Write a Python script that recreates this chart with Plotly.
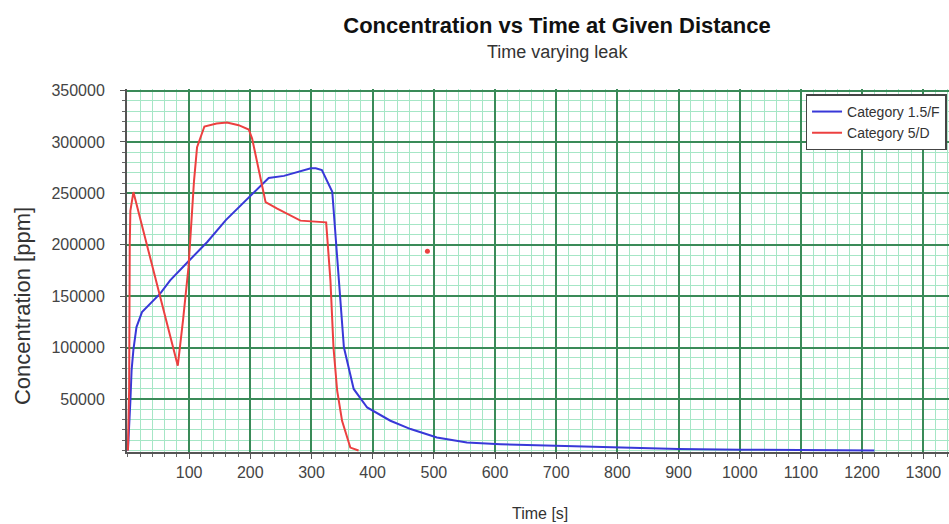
import plotly.graph_objects as go

# ---- data ----
blue_t = [0, 2, 4, 6, 9, 14, 23, 53, 69, 99, 130, 160, 200, 230, 255, 280, 299, 307, 317, 334, 353, 369, 391, 429, 462, 505, 554, 609, 700, 800, 900, 1000, 1100, 1220]
blue_c = [0, 20000, 48000, 78000, 98000, 120000, 134500, 152700, 165400, 184000, 203000, 224000, 248000, 265000, 267000, 271000, 274500, 274500, 272600, 251500, 100300, 59800, 41800, 28900, 20800, 12600, 7700, 6100, 4600, 2600, 1300, 700, 300, 0]

red_t = [0, 2, 3, 4, 9, 81.5, 90, 99, 108, 113, 125, 145, 162, 181, 197.5, 203, 225, 244, 282, 314, 324, 331, 336, 342, 350, 363.5, 377]
red_c = [0, 60000, 200000, 233000, 251300, 82400, 126300, 178000, 262000, 295000, 315000, 318000, 319000, 316300, 312100, 303300, 241500, 235100, 223500, 222000, 221800, 165200, 100300, 58100, 28800, 2800, 0]

dot_t = [489.5]
dot_c = [193800]

x_ticks = [100, 200, 300, 400, 500, 600, 700, 800, 900, 1000, 1100, 1200, 1300]
y_ticks = [50000, 100000, 150000, 200000, 250000, 300000, 350000]

series_names = ["Category 1.5/F", "Category 5/D"]

BLUE = "#3838d8"
RED = "#ec4040"
MAJOR = "#3a8a58"
MINOR = "#a6e6c6"
FONT = "Liberation Sans, Arial, sans-serif"

fig = go.Figure()
fig.add_trace(go.Scatter(x=blue_t, y=blue_c, mode="lines", name=series_names[0],
                         line=dict(color=BLUE, width=2)))
fig.add_trace(go.Scatter(x=red_t, y=red_c, mode="lines", name=series_names[1],
                         line=dict(color=RED, width=2)))
fig.add_trace(go.Scatter(x=dot_t, y=dot_c, mode="markers", showlegend=False,
                         marker=dict(color=RED, size=5)))

fig.update_layout(
    width=949, height=524,
    margin=dict(l=127, r=0, t=89, b=72),
    paper_bgcolor="white", plot_bgcolor="white",
    font=dict(family=FONT, color="#333"),
    title=dict(text="<b>Concentration vs Time at Given Distance</b>",
               xref="container", yref="container", x=557/949, xanchor="center",
               y=1 - 25/524, yanchor="middle",
               font=dict(size=22, color="#111", family=FONT)),
    showlegend=True,
    legend=dict(x=0.997, xanchor="right", y=0.985, yanchor="top",
                bgcolor="white", bordercolor="#444", borderwidth=1.5,
                font=dict(size=14, color="#333"), itemwidth=30,
                tracegroupgap=0),
)

fig.update_xaxes(
    range=[-1.5, 1342], tickmode="array", tickvals=x_ticks,
    showgrid=True, gridcolor=MAJOR, gridwidth=1.5,
    showline=True, linecolor="#555", linewidth=2, mirror=False,
    ticks="outside", ticklen=5, tickcolor="#555", tickwidth=1,
    ticklabelstandoff=0, tickformat="d",
    tickfont=dict(size=16, color="#444"),
    zeroline=False,
    minor=dict(tickmode="linear", tick0=0, dtick=20, showgrid=True,
               gridcolor=MINOR, gridwidth=1, ticks="outside", ticklen=3,
               tickcolor="#666"),
)
fig.update_yaxes(
    range=[-1500, 351500], tickmode="array", tickvals=y_ticks,
    showgrid=True, gridcolor=MAJOR, gridwidth=1.5,
    showline=True, linecolor="#555", linewidth=2, mirror=False,
    ticks="outside", ticklen=5, tickcolor="#555", tickwidth=1,
    ticklabelstandoff=12, tickformat="d",
    tickfont=dict(size=16, color="#444"),
    zeroline=False,
    minor=dict(tickmode="linear", tick0=0, dtick=10000, showgrid=True,
               gridcolor=MINOR, gridwidth=1, ticks="outside", ticklen=3,
               tickcolor="#666"),
)

fig.add_annotation(text="Time varying leak", xref="paper", yref="paper",
                   x=(557 - 127) / 822, y=(451.7 - 52) / 362.3,
                   xanchor="center", yanchor="middle", showarrow=False,
                   font=dict(size=18, color="#333"))
fig.add_annotation(text="Time [s]", xref="paper", yref="paper",
                   x=(540 - 127) / 822, y=(451.7 - 513) / 362.3,
                   xanchor="center", yanchor="middle", showarrow=False,
                   font=dict(size=16, color="#333"))
fig.add_annotation(text="Concentration [ppm]", xref="paper", yref="paper",
                   x=(22 - 127) / 822, y=(451.7 - 306) / 362.3, textangle=-90,
                   xanchor="center", yanchor="middle", showarrow=False,
                   font=dict(size=22, color="#333"))

fig.write_html("out.html", config={"displayModeBar": False},
               post_script="document.body.style.margin='0';document.body.style.overflow='hidden';")
